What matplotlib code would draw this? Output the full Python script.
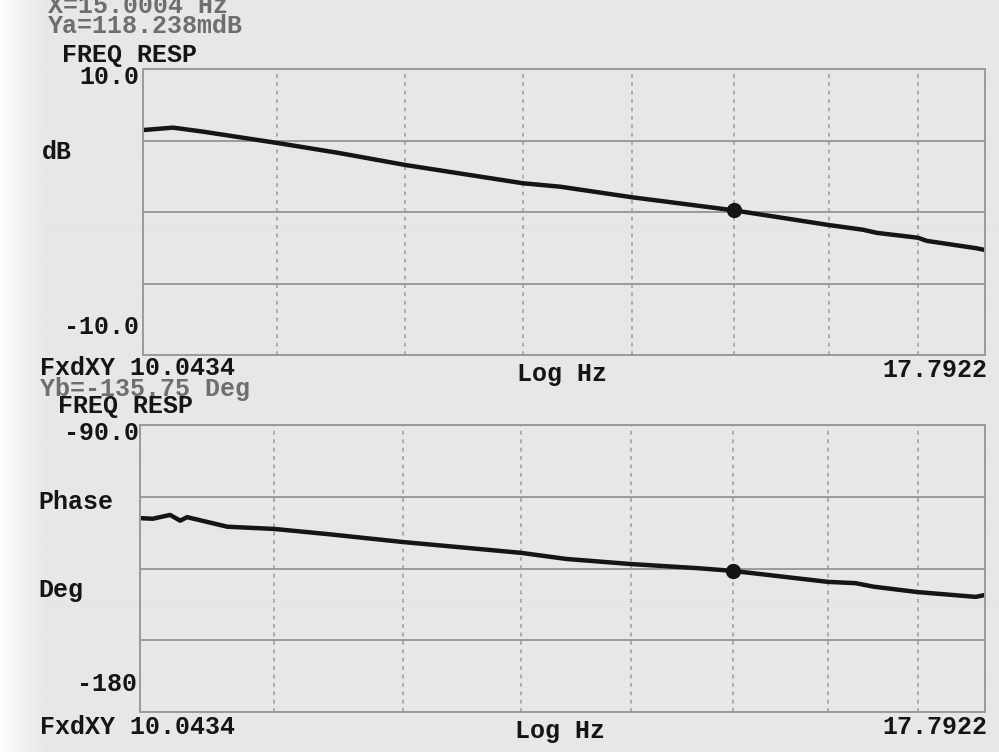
import numpy as np
import matplotlib
matplotlib.use("Agg")
import matplotlib.pyplot as plt
from matplotlib.ticker import NullLocator

# ---- data ----------------------------------------------------------------
f_start, f_stop = 10.0434, 17.7922
grid_freqs = [11, 12, 13, 14, 15, 16, 17]

freq_mag = [10.0434, 10.25, 10.461, 11.02, 11.458, 12.0, 13.0, 13.332, 14.0,
            15.0004, 16.0, 16.377, 16.533, 17.0, 17.104, 17.695, 17.7922]
mag_db = [5.73, 5.90, 5.62, 4.80, 4.15, 3.29, 2.01, 1.77, 1.03,
          0.118238, -0.91, -1.24, -1.46, -1.80, -2.02, -2.54, -2.66]

freq_phase = [10.0434, 10.13, 10.25, 10.32, 10.369, 10.655, 11.0, 11.4, 12.0,
              12.55, 13.0, 13.4, 14.0, 14.65, 15.0004, 16.0, 16.3, 16.5, 17.0,
              17.68, 17.7922]
phase_deg = [-119.2, -119.4, -118.2, -120.0, -118.9, -121.9, -122.6, -124.2,
             -126.7, -128.6, -130.1, -132.0, -133.6, -134.9, -135.75, -139.2,
             -139.6, -140.7, -142.4, -143.9, -143.3]

marker_x = 15.0004
marker_ya = 0.118238      # dB
marker_yb = -135.75       # deg

mag_range = (-10.0, 10.0)
phase_range = (-180.0, -90.0)

# ---- figure ----------------------------------------------------------------
W, H = 999, 752
fig = plt.figure(figsize=(W / 100, H / 100), dpi=100)
fig.patch.set_facecolor("#e7e7e7")

# paper tone, lighter towards the left edge
bg = fig.add_axes([0, 0, 1, 1], zorder=-10)
xs = np.linspace(0, 1, W)
tone = 0.905 + 0.085 * np.clip(1 - xs * W / 45, 0, 1)
bg.imshow(np.tile(tone, (10, 1)), cmap="gray", vmin=0, vmax=1,
          aspect="auto", extent=[0, 1, 0, 1], interpolation="bilinear")
bg.set_axis_off()

INK = "#151515"
GRID = "#9a9a9a"
FONT = dict(family="Liberation Mono", weight="bold")


def px_axes(left, top, right, bottom):
    return fig.add_axes([left / W, 1 - bottom / H, (right - left) / W, (bottom - top) / H])


def style(ax, ylim):
    ax.set_facecolor("none")
    ax.set_xscale("log")
    ax.set_xlim(f_start, f_stop)
    ax.set_ylim(*ylim)
    ax.set_xticks(grid_freqs)
    ax.xaxis.set_minor_locator(NullLocator())
    ax.set_yticks(np.linspace(ylim[0], ylim[1], 5))
    ax.set_xticklabels([])
    ax.set_yticklabels([])
    ax.tick_params(length=0)
    ax.grid(axis="x", color=GRID, linestyle=(0, (2.5, 3)), linewidth=1.1)
    ax.grid(axis="y", color=GRID, linestyle="-", linewidth=1.4)
    for s in ax.spines.values():
        s.set_color(GRID)
        s.set_linewidth(1.4)


ax1 = px_axes(143, 69, 985, 355)
style(ax1, mag_range)
ax1.plot(freq_mag, mag_db, color=INK, linewidth=3.2, solid_capstyle="round",
         solid_joinstyle="round")
ax1.plot([marker_x], [marker_ya], "o", color=INK, markersize=10)

ax2 = px_axes(140, 425, 985, 712)
style(ax2, phase_range)
ax2.plot(freq_phase, phase_deg, color=INK, linewidth=3.2, solid_capstyle="round",
         solid_joinstyle="round")
ax2.plot([marker_x], [marker_yb], "o", color=INK, markersize=10)


def label(x, y, s, ha="left", color=INK, size=18):
    fig.text(x / W, 1 - y / H, s, ha=ha, va="center", color=color,
             fontsize=size, **FONT)


GREY = "#6e6e6e"
label(48, 6, f"X={marker_x:.4f} Hz", color=GREY)
label(48, 26, f"Ya={marker_ya * 1000:.3f}mdB", color=GREY)
label(62, 55, "FREQ RESP")
label(139, 77, f"{mag_range[1]:.1f}", ha="right")
label(42, 152, "dB")
label(139, 327, f"{mag_range[0]:.1f}", ha="right")
label(40, 368, f"FxdXY {f_start:.4f}")
label(562, 374, "Log Hz", ha="center")
label(987, 370, f"{f_stop:.4f}", ha="right")

label(40, 389, f"Yb={marker_yb:.2f} Deg", color=GREY)
label(58, 406, "FREQ RESP")
label(139, 433, f"{phase_range[1]:.1f}", ha="right")
label(38, 502, "Phase")
label(38, 590, "Deg")
label(137, 684, f"{phase_range[0]:.0f}", ha="right")
label(40, 727, f"FxdXY {f_start:.4f}")
label(560, 731, "Log Hz", ha="center")
label(987, 727, f"{f_stop:.4f}", ha="right")

fig.savefig("out.png", dpi=100, facecolor=fig.get_facecolor())
